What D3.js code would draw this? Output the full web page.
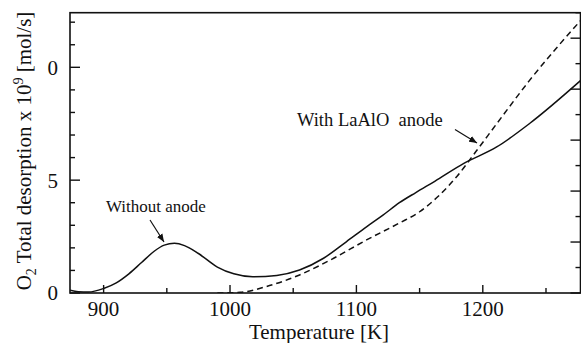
<!DOCTYPE html>
<html>
<head>
<meta charset="utf-8">
<script src="https://cdn.jsdelivr.net/npm/d3@7"></script>
<style>
  html, body { margin: 0; padding: 0; background: #fff; }
  svg { display: block; }
</style>
</head>
<body>
<svg id="chart" width="581" height="343"></svg>
<script>
// O2 desorption curves (temperature in K, rate x 1e9 mol/s)
const withoutAnodeT = [873.5, 880, 888, 900, 910, 920, 930, 940, 948, 956, 964, 975, 990, 1003, 1018, 1037, 1055, 1074, 1092, 1108, 1121, 1134, 1147, 1162, 1185, 1211, 1237, 1277.5];
const withoutAnodeV = [0.12, 0.06, 0.04, 0.2, 0.45, 0.85, 1.35, 1.85, 2.12, 2.2, 2.1, 1.75, 1.15, 0.85, 0.72, 0.78, 1.02, 1.54, 2.27, 2.93, 3.45, 4.0, 4.45, 4.95, 5.74, 6.47, 7.51, 9.42];

const laAlOT = [990, 1008, 1029, 1055, 1082, 1108, 1134, 1150, 1165, 1180, 1195, 1211, 1237, 1277.5];
const laAlOV = [0.0, 0.03, 0.29, 0.8, 1.54, 2.35, 3.1, 3.6, 4.3, 5.2, 6.3, 7.5, 9.42, 12.08];

// Axis ticks and labels
const xMajorTicks = [900, 1000, 1100, 1200];
const xMinorTicks = [950, 1050, 1150, 1250];
const yMajorTicks = [0, 5, 10];
const yTickLabels = ["0", "5", "0"];
const yMinorTicks = [1, 2, 3, 4, 6, 7, 8, 9, 11, 12];
const rightTicks = [0, 1, 2, 3, 4, 5, 6, 7, 8, 9, 10, 11];

const svg = d3.select("#chart");
const plotLeft = 70, plotRight = 580.5, plotTop = 12.7, plotBottom = 293;
const serif = "Liberation Serif, Tinos, Times New Roman, Times, Nimbus Roman, FreeSerif, DejaVu Serif, Noto Serif, serif";

const x = d3.scaleLinear().domain([873.4, 1277.3]).range([plotLeft, plotRight]);
const y = d3.scaleLinear().domain([0, 12.42]).range([plotBottom, plotTop]);
const yRight = d3.scaleLinear().domain([0, 11]).range([plotBottom, plotTop]);

const ink = "#111";

// frame
svg.append("rect")
  .attr("x", plotLeft).attr("y", plotTop)
  .attr("width", plotRight - plotLeft).attr("height", plotBottom - plotTop)
  .attr("fill", "none").attr("stroke", ink).attr("stroke-width", 1.6);

// x ticks (pointing inward)
const xt = svg.append("g");
xt.selectAll("line.maj").data(xMajorTicks).join("line").attr("class", "maj")
  .attr("x1", d => x(d)).attr("x2", d => x(d))
  .attr("y1", plotBottom).attr("y2", plotBottom - 8)
  .attr("stroke", ink).attr("stroke-width", 1.4);
xt.selectAll("line.min").data(xMinorTicks).join("line").attr("class", "min")
  .attr("x1", d => x(d)).attr("x2", d => x(d))
  .attr("y1", plotBottom).attr("y2", plotBottom - 5)
  .attr("stroke", ink).attr("stroke-width", 1.4);
xt.selectAll("text").data(xMajorTicks).join("text")
  .attr("x", d => x(d)).attr("y", 316)
  .attr("text-anchor", "middle")
  .style("font-family", serif)
  .attr("font-size", 21).attr("fill", ink)
  .text(d => d);

// left y ticks
const yt = svg.append("g");
yt.selectAll("line.maj").data(yMajorTicks).join("line").attr("class", "maj")
  .attr("x1", plotLeft).attr("x2", plotLeft + 10)
  .attr("y1", d => y(d)).attr("y2", d => y(d))
  .attr("stroke", ink).attr("stroke-width", 1.4);
yt.selectAll("line.min").data(yMinorTicks).join("line").attr("class", "min")
  .attr("x1", plotLeft).attr("x2", plotLeft + 5)
  .attr("y1", d => y(d)).attr("y2", d => y(d))
  .attr("stroke", ink).attr("stroke-width", 1.4);
yt.selectAll("text").data(yMajorTicks).join("text")
  .attr("x", 58).attr("y", d => y(d))
  .attr("dy", "0.35em")
  .attr("text-anchor", "end")
  .style("font-family", serif)
  .attr("font-size", 21).attr("fill", ink)
  .text((d, i) => yTickLabels[i]);

// right ticks (unlabelled secondary scale)
svg.append("g").selectAll("line").data(rightTicks).join("line")
  .attr("x1", plotRight).attr("x2", d => plotRight - (d % 2 === 0 ? 10 : 5))
  .attr("y1", d => yRight(d)).attr("y2", d => yRight(d))
  .attr("stroke", ink).attr("stroke-width", 1.4);

// axis titles
svg.append("text")
  .attr("x", 319).attr("y", 338.5)
  .attr("text-anchor", "middle")
  .style("font-family", serif)
  .attr("font-size", 21).attr("fill", ink)
  .text("Temperature [K]");

const yl = svg.append("text")
  .attr("transform", "translate(31,151) rotate(-90)")
  .attr("text-anchor", "middle")
  .style("font-family", serif)
  .attr("font-size", 21).attr("fill", ink);
yl.append("tspan").text("O");
yl.append("tspan").attr("font-size", 14).attr("dy", 5).text("2");
yl.append("tspan").attr("dy", -5).text(" Total desorption x 10");
yl.append("tspan").attr("font-size", 14).attr("dy", -8).text("9");
yl.append("tspan").attr("dy", 8).text(" [mol/s]");

// curves
svg.append("clipPath").attr("id", "plotclip")
  .append("rect").attr("x", plotLeft).attr("y", plotTop)
  .attr("width", plotRight - plotLeft).attr("height", plotBottom - plotTop);

const line = d3.line()
  .x(d => x(d[0])).y(d => y(d[1]))
  .curve(d3.curveMonotoneX);

const g = svg.append("g").attr("clip-path", "url(#plotclip)");
g.append("path")
  .datum(withoutAnodeT.map((t, i) => [t, withoutAnodeV[i]]))
  .attr("d", line)
  .attr("fill", "none").attr("stroke", ink).attr("stroke-width", 1.5);
g.append("path")
  .datum(laAlOT.map((t, i) => [t, laAlOV[i]]))
  .attr("d", line)
  .attr("fill", "none").attr("stroke", ink).attr("stroke-width", 1.5)
  .attr("stroke-dasharray", "6,4");

// annotations
const defs = svg.append("defs");
defs.append("marker")
  .attr("id", "head").attr("viewBox", "0 0 10 10")
  .attr("refX", 10).attr("refY", 5)
  .attr("markerWidth", 8).attr("markerHeight", 8)
  .attr("markerUnits", "userSpaceOnUse")
  .attr("orient", "auto")
  .append("path").attr("d", "M0,1 L10,5 L0,9 z").attr("fill", ink);

svg.append("text")
  .attr("x", 106).attr("y", 211.5)
  .style("font-family", serif)
  .attr("font-size", 17).attr("fill", ink)
  .text("Without anode");
svg.append("line")
  .attr("x1", 150).attr("y1", 220).attr("x2", 164).attr("y2", 242)
  .attr("stroke", ink).attr("stroke-width", 1.2)
  .attr("marker-end", "url(#head)");

svg.append("text")
  .attr("x", 297).attr("y", 126)
  .style("font-family", serif)
  .attr("font-size", 18.5).attr("fill", ink)
  .style("white-space", "pre")
  .text("With LaAlO  anode");
svg.append("line")
  .attr("x1", 455).attr("y1", 129.5).attr("x2", 477).attr("y2", 143)
  .attr("stroke", ink).attr("stroke-width", 1.2)
  .attr("marker-end", "url(#head)");
</script>
</body>
</html>
